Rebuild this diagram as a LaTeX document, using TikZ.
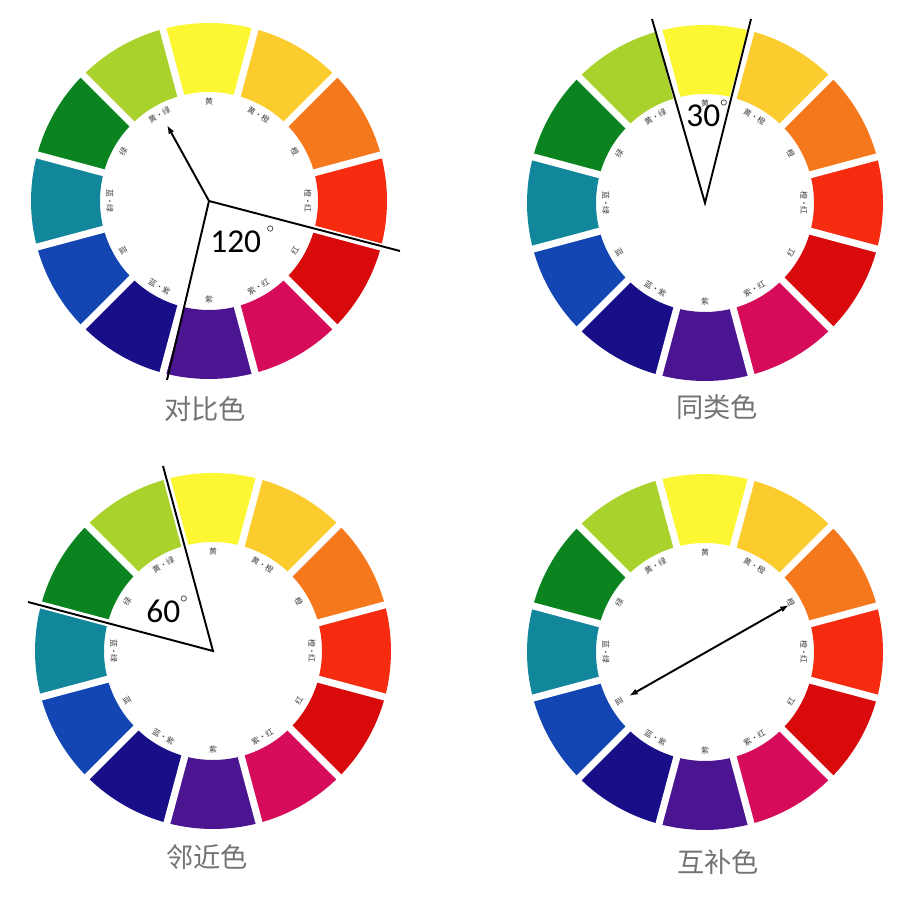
\documentclass[tikz,border=0pt]{standalone}
\usepackage{fontspec}
\usetikzlibrary{arrows.meta}
\newfontfamily\cjk{Noto Sans CJK SC}
\newfontfamily\numfont{Carlito}
%% wheel colours
\definecolor{cOR}{HTML}{F62B10}
\definecolor{cO}{HTML}{F5781C}
\definecolor{cYO}{HTML}{FCCB2E}
\definecolor{cY}{HTML}{FDF733}
\definecolor{cYG}{HTML}{AAD22C}
\definecolor{cG}{HTML}{0B8420}
\definecolor{cBG}{HTML}{12879C}
\definecolor{cB}{HTML}{1446B3}
\definecolor{cBV}{HTML}{170E88}
\definecolor{cV}{HTML}{4B1592}
\definecolor{cRV}{HTML}{D60B5A}
\definecolor{cR}{HTML}{D80A0B}
\tikzset{
  seglabel/.style={font=\cjk\fontsize{4.5}{5}\selectfont, text=black!75, inner sep=0pt},
  caption/.style={font=\cjk\fontsize{15.5}{16}\selectfont, text=black!55},
  angletext/.style={font=\numfont\fontsize{19}{19}\selectfont, anchor=base west, inner sep=0pt},
  ray/.style={line width=1.1pt, black},
  gap/.style={white, line width=4pt},
}
\newcommand{\degmark}{\raisebox{0.62em}{\fontsize{8}{8}\selectfont$\circ$}}
\begin{document}
\begin{tikzpicture}[x=0.02cm,y=0.02cm]
        \useasboundingbox (0,0) rectangle (914,898);
        %% four colour wheels
        \foreach \cx/\cy/\w in {209/697/a, 705/695/b, 213/247/c, 705/246/d}{
            \coordinate (\w) at (\cx,\cy);
            \begin{scope}[shift={(\w)}]
                \foreach \ang/\col/\txt in {0/cOR/橙·红, 30/cO/橙, 60/cYO/黄·橙, 90/cY/黄,
                        120/cYG/黄·绿, 150/cG/绿, 180/cBG/蓝·绿, 210/cB/蓝,
                        240/cBV/蓝·紫, 270/cV/紫, 300/cRV/紫·红, 330/cR/红}{
                    \fill[\col] ({\ang-15}:109) arc[start angle=\ang-15, end angle=\ang+15, radius=109]
                        -- ({\ang+15}:178) arc[start angle=\ang+15, end angle=\ang-15, radius=178] -- cycle;
                    \pgfmathsetmacro\rot{\ang<180 ? \ang-90 : \ang+90}
                    \node[seglabel, rotate=\rot] (\w\ang) at (\ang:99) {\txt};
                }
                %% white gaps
                \foreach \ang in {15,45,...,345}
                    \draw[gap] (\ang:104) -- (\ang:182);
            \end{scope}
        }
        %% contrast
        \coordinate (a1) at (167,773);
        \coordinate (a2) at (400,647);
        \coordinate (a3) at (167,518);
        \draw[ray,-{Latex[length=5pt,width=3.5pt]}] (a) -- (a1);
        \draw[ray] (a) -- (a2);
        \draw[ray] (a) -- (a3);
        \node[angletext] (angA) at (210,645) {120\,\degmark};
        %% analogous
        \coordinate (b1) at (652,879);
        \coordinate (b2) at (751,879);
        \draw[ray] (b1) -- (b) -- (b2);
        \node[angletext] (angB) at (686,771) {30\degmark};
        %% adjacent
        \coordinate (c1) at (163,432);
        \coordinate (c2) at (28,296);
        \draw[ray] (c1) -- (c) -- (c2);
        \node[angletext] (angC) at (146,275) {60\degmark};
        %% complementary
        \coordinate (d1) at (789,293);
        \coordinate (d2) at (629,202);
        \draw[ray,{Latex[length=5pt,width=3.5pt]}-{Latex[length=5pt,width=3.5pt]}] (d1) -- (d2);
        %% captions
        \node[caption] (capA) at (205,489) {对比色};
        \node[caption] (capB) at (717,491) {同类色};
        \node[caption] (capC) at (207,41) {邻近色};
        \node[caption] (capD) at (718,36) {互补色};
    \end{tikzpicture}
\end{document}
